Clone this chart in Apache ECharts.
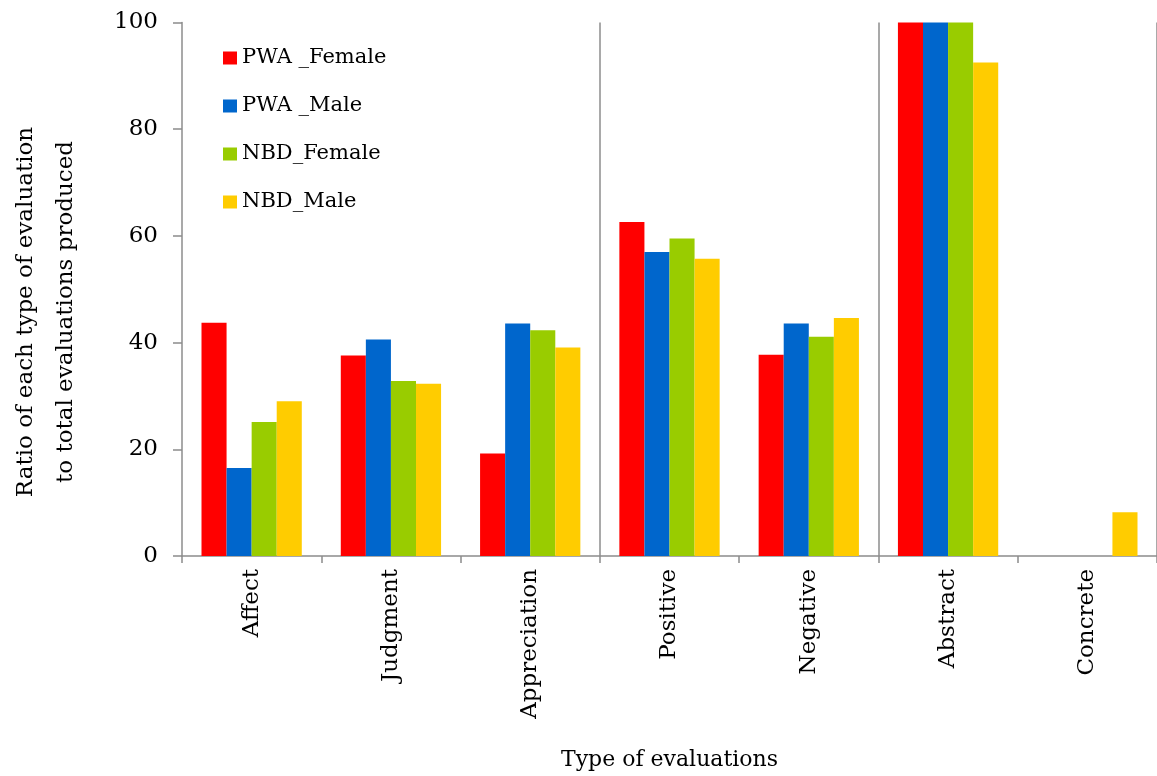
<!DOCTYPE html>
<html>
<head>
<meta charset="utf-8">
<script src="https://cdn.jsdelivr.net/npm/echarts@6/dist/echarts.min.js"></script>
<style>
  html, body { margin: 0; padding: 0; background: #ffffff; }
  #chart { width: 1157px; height: 776px; }
</style>
</head>
<body>
<div id="chart"></div>
<script>
// Evaluation categories along the x axis
const categories = ['Affect', 'Judgment', 'Appreciation', 'Positive', 'Negative', 'Abstract', 'Concrete'];

// Ratio (%) of each evaluation type per group
const pwaFemale = [43.7, 37.6, 19.2, 62.6, 37.7, 100, 0];
const pwaMale   = [16.5, 40.6, 43.6, 57.0, 43.6, 100, 0];
const nbdFemale = [25.1, 32.8, 42.3, 59.5, 41.1, 100, 0];
const nbdMale   = [29.0, 32.3, 39.1, 55.7, 44.6, 92.5, 8.2];

const seriesNames = ['PWA _Female', 'PWA _Male', 'NBD_Female', 'NBD_Male'];
const seriesColors = ['#FF0000', '#0066CC', '#99CC00', '#FFCC00'];

const FONT = 'DejaVu Serif';
const AXIS_GREY = '#8c8c8c';

const chart = echarts.init(document.getElementById('chart'), null, { renderer: 'canvas' });

const seriesData = [pwaFemale, pwaMale, nbdFemale, nbdMale];

chart.setOption({
  backgroundColor: '#ffffff',
  animation: false,
  grid: { left: 182, right: 0, top: 22.5, bottom: 219.5, containLabel: false },
  legend: {
    orient: 'vertical',
    left: 218,
    top: 41,
    itemWidth: 14,
    itemHeight: 13,
    itemGap: 24,
    icon: 'rect',
    textStyle: { fontFamily: FONT, fontSize: 21, color: '#000', lineHeight: 24 },
    data: seriesNames
  },
  xAxis: {
    type: 'category',
    data: categories,
    boundaryGap: true,
    axisLine: { show: true, lineStyle: { color: AXIS_GREY, width: 1.5 } },
    axisTick: { show: true, length: 7, inside: false, lineStyle: { color: AXIS_GREY, width: 1.5 } },
    splitLine: {
      show: true,
      interval: function (index) { return index === 3 || index === 5; },
      lineStyle: { color: AXIS_GREY, width: 1.5, type: 'solid' }
    },
    axisLabel: {
      rotate: 90,
      margin: 13,
      interval: 0,
      fontFamily: FONT,
      fontSize: 23,
      color: '#000'
    },
    name: 'Type of evaluations',
    nameLocation: 'middle',
    nameGap: 193,
    nameTextStyle: { fontFamily: FONT, fontSize: 22, color: '#000' }
  },
  yAxis: {
    type: 'value',
    min: 0,
    max: 100,
    interval: 20,
    axisLine: { show: true, lineStyle: { color: AXIS_GREY, width: 1.5 } },
    axisTick: { show: true, length: 9, inside: false, lineStyle: { color: AXIS_GREY, width: 1.5 } },
    splitLine: { show: false },
    axisLabel: { margin: 24, fontFamily: FONT, fontSize: 23, color: '#000' }
  },
  graphic: [{
    type: 'text',
    x: 46,
    y: 312,
    rotation: Math.PI / 2,
    style: {
      text: 'Ratio of each type of evaluation\nto total evaluations produced',
      fontFamily: FONT,
      fontSize: 23,
      lineHeight: 40,
      fill: '#000',
      align: 'center',
      verticalAlign: 'middle'
    }
  }],
  series: seriesNames.map((name, i) => ({
    name: name,
    type: 'bar',
    data: seriesData[i],
    barGap: '0%',
    barCategoryGap: '28%',
    itemStyle: { color: seriesColors[i] }
  }))
});
</script>
</body>
</html>
